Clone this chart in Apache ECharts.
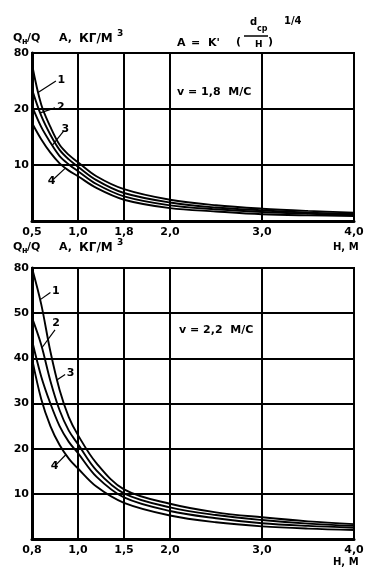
<!DOCTYPE html>
<html><head><meta charset="utf-8">
<script src="https://cdn.jsdelivr.net/npm/echarts@6/dist/echarts.min.js"></script>
<style>html,body{margin:0;padding:0;background:#fff}#c{width:381px;height:577px}</style>
</head><body><div id="c"></div>
<script>
// H, m
const H = [0.5, 0.6, 0.7, 0.8, 0.9, 1.0, 1.2, 1.5, 2.0, 2.5, 3.0, 3.5, 4.0];
// v = 1,8 m/s
const top1 = [28, 20.8, 16.8, 13.6, 11.8, 10.5, 8.0, 5.7, 3.8, 2.8, 2.2, 1.8, 1.5];
const top2 = [23.5, 18.8, 15.4, 12.7, 11.0, 9.7, 7.3, 5.0, 3.3, 2.4, 1.9, 1.5, 1.3];
const top3 = [20.5, 16.8, 14.0, 11.6, 10.1, 8.9, 6.6, 4.4, 2.8, 2.1, 1.6, 1.3, 1.1];
const top4 = [17.5, 14.6, 12.2, 10.3, 9.0, 8.0, 5.9, 3.8, 2.3, 1.7, 1.2, 1.0, 0.9];
// v = 2,2 m/s
const bot1 = [60, 52, 41.5, 33, 27, 23, 16.8, 11, 7.8, 5.9, 4.8, 3.9, 3.3];
const bot2 = [49, 43, 35, 28.5, 24, 21, 15.2, 10.1, 7.0, 5.3, 4.2, 3.4, 2.9];
const bot3 = [44, 36, 30, 25, 21.5, 19, 13.8, 9.2, 6.2, 4.6, 3.5, 2.9, 2.5];
const bot4 = [40, 31, 25, 20.8, 17.8, 15.6, 11.6, 8.0, 5.2, 3.7, 2.8, 2.3, 2.0];

const xTicks = [0.5, 1.0, 1.5, 2.0, 3.0, 4.0];
const xLabelsTop = ['0,5', '1,0', '1,8', '2,0', '3,0', '4,0'];
const xLabelsBot = ['0,8', '1,0', '1,5', '2,0', '3,0', '4,0'];
const yTicksTop = [10, 20, 30];
const yLabelsTop = ['10', '20', '80'];
const yTicksBot = [10, 20, 30, 40, 50, 60];
const yLabelsBot = ['10', '20', '30', '40', '50', '80'];
const curveNames = ['1', '2', '3', '4'];
// leader lines for curve labels: [from (on curve), to (label end)] in data units
const leadersTop = [[[0.57, 23.0], [0.76, 25.0]], [[0.59, 19.3], [0.75, 20.2]], [[0.72, 13.5], [0.85, 16.2]], [[0.86, 9.4], [0.73, 7.4]]];
const leadersBot = [[[0.59, 53.0], [0.70, 54.6]], [[0.61, 42.4], [0.75, 46.3]], [[0.77, 35.2], [0.86, 36.4]], [[0.87, 18.7], [0.76, 16.4]]];

const FONT = 'DejaVu Sans';
const fmtFrom = (ticks, labels) => v => {
  for (let i = 0; i < ticks.length; i++) if (Math.abs(ticks[i] - v) < 1e-6) return labels[i];
  return '';
};

function xAxis(gi, labels) {
  return {
    type: 'value', gridIndex: gi, min: 0.5, max: 4.0, interval: 0.5,
    axisLine: {show: true, onZero: false, lineStyle: {color: '#000', width: 3}},
    axisTick: {show: false}, splitLine: {show: false},
    axisLabel: {formatter: fmtFrom(xTicks, labels), color: '#000', fontFamily: FONT, fontWeight: 'bold', fontSize: 11, margin: 6, showMinLabel: true, showMaxLabel: true}
  };
}
function yAxis(gi, max, ticks, labels) {
  return {
    type: 'value', gridIndex: gi, min: 0, max: max, interval: 10,
    axisLine: {show: true, lineStyle: {color: '#000', width: 3}},
    axisTick: {show: false},
    splitLine: {show: true, lineStyle: {color: '#000', width: 2}},
    axisLabel: {formatter: fmtFrom(ticks, labels), color: '#000', fontFamily: FONT, fontWeight: 'bold', fontSize: 11, margin: 3}
  };
}
function curves(gi, arrs, leaders) {
  return arrs.map((arr, k) => {
    const mlData = [[{coord: leaders[k][0]}, {coord: leaders[k][1]}]];
    if (k === 0) {
      xTicks.slice(1, -1).forEach(x => mlData.push({xAxis: x, lineStyle: {color: '#000', width: 2, type: 'solid'}, label: {show: false}}));
    }
    return {
      type: 'line', xAxisIndex: gi, yAxisIndex: gi, smooth: 0.35, symbol: 'none',
      lineStyle: {color: '#000', width: 1.9},
      data: H.map((x, i) => [x, arr[i]]),
      markLine: {
        silent: true, symbol: ['none', 'none'], animation: false,
        lineStyle: {color: '#000', width: 1.2, type: 'solid'},
        label: {show: true, position: 'end', formatter: curveNames[k], color: '#000', fontFamily: FONT, fontWeight: 'bold', fontSize: 11, distance: 2},
        data: mlData
      }
    };
  });
}

const txt = (x, y, s, size) => ({type: 'text', x: x, y: y, style: {text: s, fill: '#000', font: 'bold ' + size + 'px "' + FONT + '"'}});
function title(x, y) {
  return [
    txt(x, y, 'Q', 11), txt(x + 9, y + 5, 'н', 8), txt(x + 14, y, '/Q', 11),
    txt(x + 46, y, 'A,', 11), txt(x + 66, y, 'КГ/М', 12), txt(x + 104, y - 4, '3', 9)
  ];
}

const chart = echarts.init(document.getElementById('c'), null, {renderer: 'canvas'});
chart.setOption({
  animation: false,
  backgroundColor: '#fff',
  grid: [
    {left: 32, top: 53, width: 322, height: 168, show: true, borderColor: '#000', borderWidth: 2, backgroundColor: 'transparent'},
    {left: 32, top: 268, width: 322, height: 271, show: true, borderColor: '#000', borderWidth: 2, backgroundColor: 'transparent'}
  ],
  xAxis: [xAxis(0, xLabelsTop), xAxis(1, xLabelsBot)],
  yAxis: [yAxis(0, 30, yTicksTop, yLabelsTop), yAxis(1, 60, yTicksBot, yLabelsBot)],
  series: [].concat(curves(0, [top1, top2, top3, top4], leadersTop), curves(1, [bot1, bot2, bot3, bot4], leadersBot)),
  graphic: [].concat(
    title(13, 33),
    title(13, 242),
    [
      txt(177, 38, 'A', 11), txt(191, 38, '=', 11), txt(208, 38, "K'", 11), txt(236, 37, '(', 11),
      txt(250, 17, 'd', 10), txt(257, 25, 'ср', 8),
      {type: 'line', shape: {x1: 244, y1: 36, x2: 268, y2: 36}, style: {stroke: '#000', lineWidth: 1.5}},
      txt(255, 40, 'H', 9),
      txt(268, 37, ')', 11),
      txt(284, 16, '1/4', 10),
      txt(177, 87, 'v = 1,8  М/С', 11),
      txt(179, 325, 'v = 2,2  М/С', 11),
      txt(333, 242, 'H, M', 10),
      txt(333, 557, 'H, M', 10)
    ]
  )
});
</script></body></html>
